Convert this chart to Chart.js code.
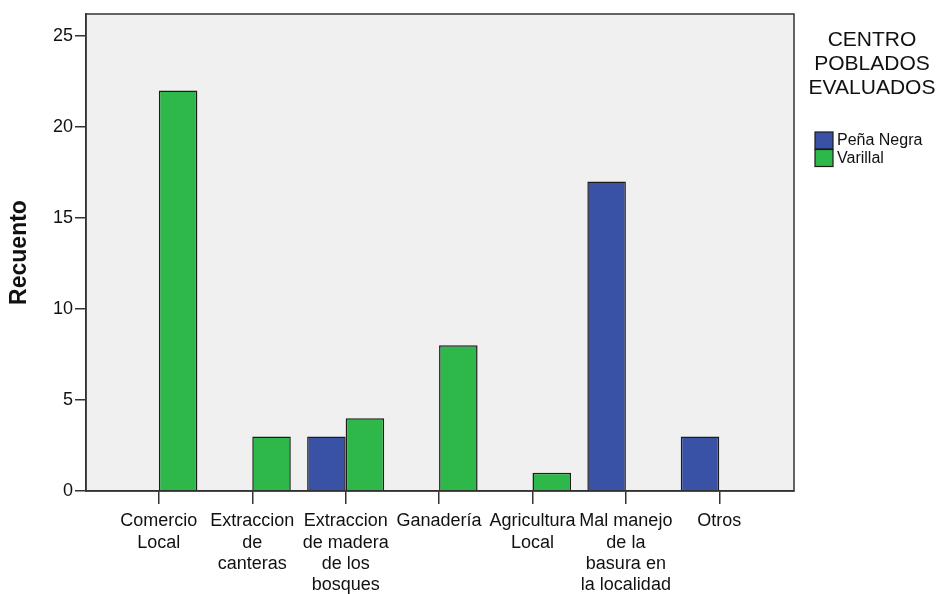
<!DOCTYPE html>
<html><head><meta charset="utf-8">
<script src="https://cdn.jsdelivr.net/npm/chart.js@4"></script>
<style>html,body{margin:0;padding:0;background:#fff}#wrap{width:946px;height:594px}</style>
</head><body><div id="wrap"><canvas id="c" width="946" height="594"></canvas></div>
<script>
const categories = [["Comercio","Local"],["Extraccion","de","canteras"],["Extraccion","de madera","de los","bosques"],["Ganadería"],["Agricultura","Local"],["Mal manejo","de la","basura en","la localidad"],["Otros"]];
const penaNegra = [null, null, 3, null, null, 17, 3];
const varillal = [22, 3, 4, 8, 1, null, null];
const yTicks = [0, 5, 10, 15, 20, 25];
const seriesNames = ["Peña Negra", "Varillal"];
const legendTitle = ["CENTRO", "POBLADOS", "EVALUADOS"];
const yTitle = "Recuento";

const FONT = "'Liberation Sans', Arial, sans-serif";
const BLUE = '#3a52a6', GREEN = '#2fb84a', EDGE = '#1c1c1c', AXIS = '#333333';

const frame = {
  id: 'frame',
  beforeDraw(chart) {
    const {ctx, chartArea: a} = chart;
    ctx.save();
    ctx.fillStyle = '#f0f0f0';
    ctx.fillRect(a.left, a.top, a.right - a.left, a.bottom - a.top);
    ctx.restore();
  },
  afterDatasetsDraw(chart) {
    const {ctx, chartArea: a} = chart;
    ctx.save();
    ctx.strokeStyle = AXIS; ctx.lineWidth = 1.5;
    ctx.strokeRect(a.left, a.top, a.right - a.left, a.bottom - a.top);
    ctx.restore();
  }
};

const sideLegend = {
  id: 'sideLegend',
  afterDraw(chart) {
    const ctx = chart.ctx;
    ctx.save();
    ctx.fillStyle = '#111';
    ctx.textAlign = 'center'; ctx.textBaseline = 'middle';
    ctx.font = "21px " + FONT;
    legendTitle.forEach((t, i) => ctx.fillText(t, 872, 40 + i * 24));
    ctx.font = "16px " + FONT;
    ctx.textAlign = 'left';
    chart.data.datasets.forEach((ds, i) => {
      const y = 132 + i * 17.5;
      ctx.fillStyle = ds.backgroundColor;
      ctx.fillRect(815, y, 18, 17);
      ctx.strokeStyle = EDGE; ctx.lineWidth = 1.2;
      ctx.strokeRect(815, y, 18, 17);
      ctx.fillStyle = '#111';
      ctx.fillText(ds.label, 837, y + 9);
    });
    ctx.restore();
  }
};

const toXY = arr => arr.map((v, i) => ({x: i, y: v}));

new Chart(document.getElementById('c'), {
  type: 'bar',
  data: {
    datasets: [
      {label: seriesNames[0], data: toXY(penaNegra), backgroundColor: BLUE, borderColor: EDGE, borderWidth: 1.5},
      {label: seriesNames[1], data: toXY(varillal), backgroundColor: GREEN, borderColor: EDGE, borderWidth: 1.5}
    ]
  },
  options: {
    responsive: false, animation: false, devicePixelRatio: 1,
    categoryPercentage: 0.825, barPercentage: 1,
    layout: {padding: {top: 14, right: 152, left: 0, bottom: 0}},
    plugins: {legend: {display: false}, tooltip: {enabled: false}},
    scales: {
      x: {
        type: 'linear', min: -0.78, max: 6.8, offset: false,
        afterBuildTicks: s => { s.ticks = categories.map((_, i) => ({value: i})); },
        afterFit: s => { s.height = 103; },
        ticks: {autoSkip: false, maxRotation: 0, minRotation: 0, padding: 7, color: '#111',
          font: {family: FONT, size: 18, lineHeight: 1.17},
          callback: v => categories[v]},
        grid: {display: true, offset: false, drawOnChartArea: false, drawTicks: true, tickLength: 13, color: AXIS, lineWidth: 1.5},
        border: {display: true, color: AXIS, width: 1.5}
      },
      y: {
        min: 0, max: 26.2,
        afterBuildTicks: s => { s.ticks = yTicks.map(v => ({value: v})); },
        afterFit: s => { s.width = 86; },
        ticks: {padding: 2, color: '#111', font: {family: FONT, size: 18}},
        grid: {display: true, offset: false, drawOnChartArea: false, drawTicks: true, tickLength: 11, color: AXIS, lineWidth: 1.5},
        border: {display: true, color: AXIS, width: 1.5},
        title: {display: true, text: yTitle, color: '#111', padding: {top: 6, bottom: 0},
          font: {family: FONT, weight: 'bold', size: 23}}
      }
    }
  },
  plugins: [frame, sideLegend]
});
</script></body></html>
